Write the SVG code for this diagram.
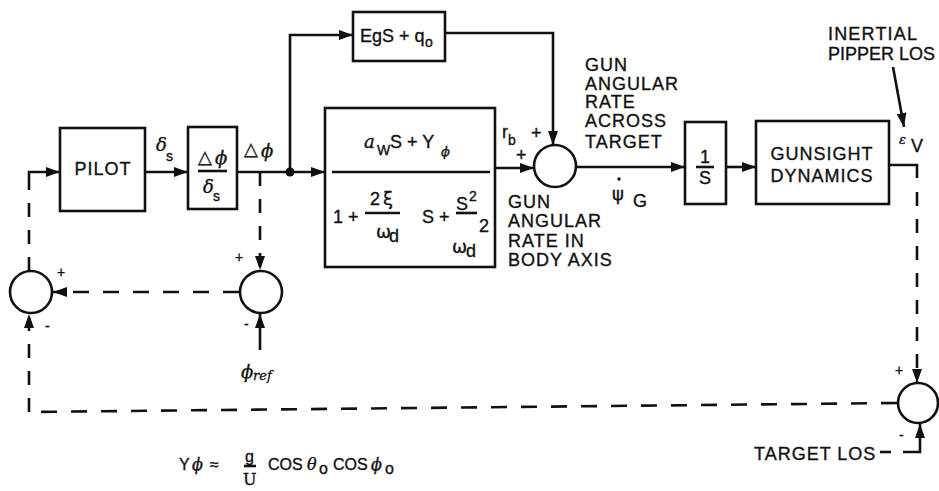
<svg xmlns="http://www.w3.org/2000/svg" width="939" height="491" viewBox="0 0 939 491">
<defs>
<marker id="ah" viewBox="0 0 14 10" refX="14" refY="5" markerWidth="14" markerHeight="10" markerUnits="userSpaceOnUse" orient="auto">
<path d="M0,0 L14,5 L0,10 Z" fill="#111"/>
</marker>
</defs>
<style>
.bx{fill:none;stroke:#111;stroke-width:2.6}
.ln{fill:none;stroke:#111;stroke-width:2.6}
.ds{fill:none;stroke:#111;stroke-width:2.6;stroke-dasharray:16,14}
.dv{fill:none;stroke:#111;stroke-width:2.6;stroke-dasharray:14,13}
text{fill:#111;stroke:#111;stroke-width:0.35}
.t{font-family:"Liberation Sans",Arial,sans-serif;font-size:18px;letter-spacing:1px}
.s{font-family:"Liberation Sans",Arial,sans-serif;font-size:18px}
.f{font-family:"Liberation Sans",Arial,sans-serif;font-size:16px}
.sm{font-family:"Liberation Sans",Arial,sans-serif;font-size:14px}
.g{font-family:"DejaVu Serif","Liberation Serif",serif;font-style:italic;font-size:18px}
.gs{font-family:"DejaVu Serif","Liberation Serif",serif;font-style:italic;font-size:13px}
.gu{font-family:"DejaVu Sans","Liberation Sans",sans-serif;font-size:18px}
</style>
<rect width="939" height="491" fill="#fff"/>

<g id="connectors">
<path class="ln" d="M29,186 L29,172 L60,172" marker-end="url(#ah)"/>
<path class="ln" d="M145,172 L188,172" marker-end="url(#ah)"/>
<path class="ln" d="M237,172 L325,172" marker-end="url(#ah)"/>
<circle cx="290" cy="172" r="4.5" fill="#111"/>
<path class="ln" d="M290,172 L290,35 L353,35" marker-end="url(#ah)"/>
<path class="ln" d="M445,33 L553,33 L553,145" marker-end="url(#ah)"/>
<path class="ln" d="M495,168 L534,168" marker-end="url(#ah)"/>
<path class="ln" d="M576,167 L685,167" marker-end="url(#ah)"/>
<path class="ln" d="M726,167 L756,167" marker-end="url(#ah)"/>
<path class="ln" d="M889,165 L917,165 L917,178"/>
<path class="dv" d="M917,192 L917,383" marker-end="url(#ah)"/>
<path class="ln" d="M893,67 L904,127" marker-end="url(#ah)"/>
<path class="dv" d="M260,172 L260,270" marker-end="url(#ah)"/>
<path class="ln" d="M260,350 L260,314" marker-end="url(#ah)"/>
<path class="ds" d="M239,292 L53,292" marker-end="url(#ah)"/>
<path class="dv" d="M29,271 L29,186"/>
<path class="ds" d="M897,403 L29,412"/>
<path class="dv" d="M29,412 L29,314" marker-end="url(#ah)"/>
<path class="ln" d="M880,452 L891,452"/>
<path class="ln" d="M903,452 L920,452 L920,424" marker-end="url(#ah)"/>
</g>

<g id="pilot">
<rect class="bx" x="60" y="128" width="85" height="83"/>
<text class="t" x="103" y="175" text-anchor="middle">PILOT</text>
</g>
<text class="g" x="156" y="151">δ</text><text class="sm" x="166" y="161">s</text>

<g id="aircraft-roll">
<rect class="bx" x="188" y="127" width="49" height="82"/>
<text class="s" x="198" y="163">△</text><text class="g" x="215" y="164">ϕ</text>
<line class="ln" x1="198" y1="171" x2="227" y2="171" stroke-width="2"/>
<text class="g" x="203" y="193">δ</text><text class="sm" x="213" y="201">s</text>
</g>
<text class="s" x="244" y="155">△</text><text class="g" x="261" y="157">ϕ</text>

<g id="egs">
<rect class="bx" x="353" y="12" width="92" height="49"/>
<text class="s" x="360" y="42">EgS + q</text><text class="sm" x="425" y="47">o</text>
</g>

<g id="yaw-dynamics">
<rect class="bx" x="325" y="108" width="170" height="159"/>
<text class="g" x="364" y="148">a</text><text class="sm" x="377" y="155">W</text>
<text class="s" x="390" y="148">S + Y</text><text class="gs" x="441" y="156">ϕ</text>
<line class="ln" x1="332" y1="172" x2="490" y2="172" stroke-width="2"/>
<text class="s" x="333" y="223">1 +</text>
<text class="s" x="370" y="205">2</text><text class="gu" x="383" y="205">ξ</text>
<line class="ln" x1="365" y1="213" x2="400" y2="213" stroke-width="2"/>
<text class="gu" x="376" y="238">ω</text><text class="s" x="389" y="242">d</text>
<text class="s" x="422" y="223">S +</text>
<text class="s" x="456" y="210">S</text><text class="sm" x="469" y="201">2</text>
<line class="ln" x1="456" y1="213" x2="477" y2="213" stroke-width="2"/>
<text class="s" x="479" y="232">2</text>
<text class="gu" x="452" y="253">ω</text><text class="s" x="466" y="257">d</text>
</g>
<text class="s" x="502" y="138">r</text><text class="sm" x="508" y="145">b</text>
<text class="s" x="531" y="139">+</text>
<text class="s" x="516" y="161">+</text>

<g id="sum-gun">
<circle class="bx" cx="555" cy="166" r="21"/>
</g>
<text class="t" x="585" y="71">GUN</text>
<text class="t" x="585" y="90">ANGULAR</text>
<text class="t" x="585" y="108">RATE</text>
<text class="t" x="585" y="127">ACROSS</text>
<text class="t" x="585" y="148">TARGET</text>
<text class="t" x="508" y="208">GUN</text>
<text class="t" x="508" y="227">ANGULAR</text>
<text class="t" x="508" y="247">RATE IN</text>
<text class="t" x="508" y="266">BODY AXIS</text>
<text class="gu" x="612" y="200">ψ</text>
<circle cx="619" cy="179" r="1.7" fill="#111"/>
<text class="s" x="633" y="207">G</text>

<g id="integrator">
<rect class="bx" x="685" y="122" width="41" height="82"/>
<text class="s" x="705" y="163" text-anchor="middle">1</text>
<line class="ln" x1="696" y1="167" x2="714" y2="167" stroke-width="2"/>
<text class="s" x="705" y="184" text-anchor="middle">S</text>
</g>

<g id="gunsight">
<rect class="bx" x="756" y="121" width="133" height="83"/>
<text class="t" x="822" y="160" text-anchor="middle">GUNSIGHT</text>
<text class="t" x="822" y="182" text-anchor="middle">DYNAMICS</text>
</g>
<text class="t" x="828" y="40" textLength="90">INERTIAL</text>
<text class="t" x="828" y="60" textLength="108">PIPPER LOS</text>
<text class="gs" x="899" y="144">ε</text><text class="s" x="911" y="152">V</text>

<g id="sum-left">
<circle class="bx" cx="31" cy="292" r="21"/>
<text class="sm" x="57" y="277">+</text>
<text class="sm" x="45" y="331">-</text>
</g>

<g id="sum-right">
<circle class="bx" cx="261" cy="292" r="21"/>
<text class="sm" x="235" y="262">+</text>
<text class="sm" x="244" y="329">-</text>
</g>
<text class="g" x="241" y="378">ϕ</text><text class="gs" x="253" y="380">ref</text>

<g id="sum-target">
<circle class="bx" cx="918" cy="403" r="20"/>
<text class="sm" x="895" y="375">+</text>
<text class="sm" x="899" y="440">-</text>
</g>
<text class="t" x="754" y="460">TARGET LOS</text>

<g id="formula">
<text class="f" x="179" y="470">Y</text><text class="g" x="192" y="470" style="font-size:16px">ϕ</text>
<text class="f" x="210" y="470">≈</text>
<text class="f" x="245" y="462">g</text>
<line class="ln" x1="244" y1="466" x2="256" y2="466" stroke-width="1.3"/>
<text class="g" x="243" y="485" style="font-style:normal;font-size:16px">U</text>
<text class="f" x="268" y="470">COS</text>
<text class="g" x="307" y="470" style="font-size:16px">θ</text><text class="f" x="319" y="474">o</text>
<text class="f" x="333" y="470">COS</text>
<text class="g" x="371" y="470" style="font-size:16px">ϕ</text><text class="f" x="385" y="474">o</text>
</g>
</svg>
